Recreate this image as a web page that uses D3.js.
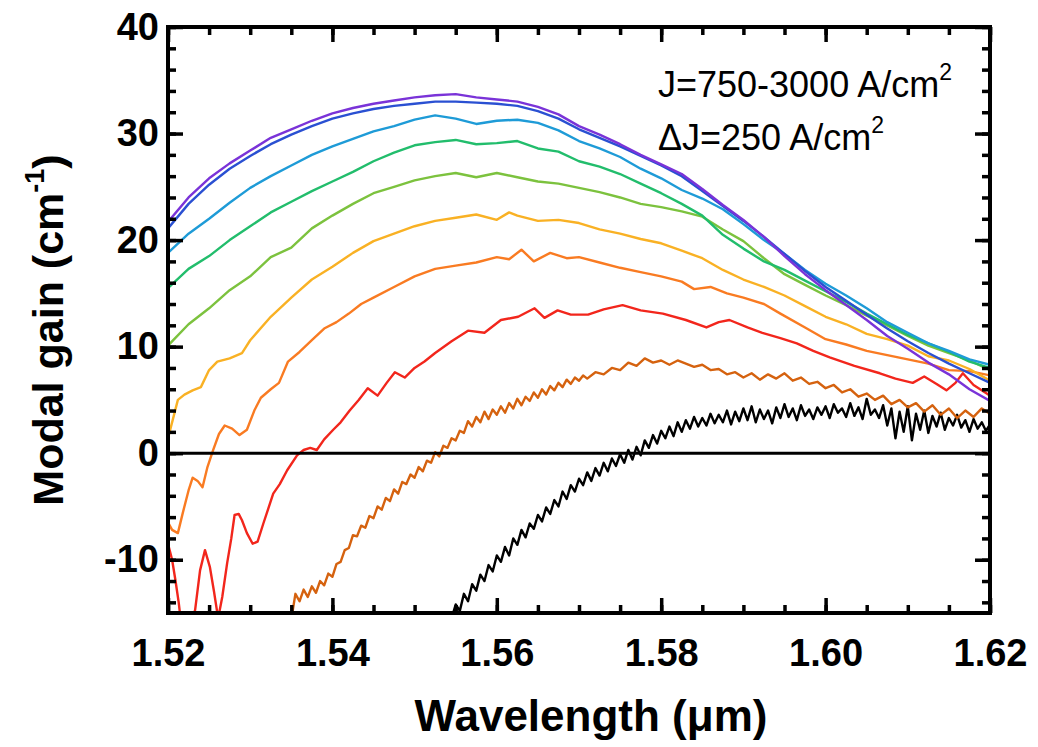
<!DOCTYPE html>
<html>
<head>
    <meta charset="utf-8" />
    <title>Modal gain spectra</title>
    <style>
        body { margin: 0; background: #fff; }
        text { font-family: "Liberation Sans", Arial, Helvetica, sans-serif; }
    </style>
</head>
<body>
<script src="https://d3js.org/d3.v7.min.js"></script>
<script>

    // gain spectra, one array per current density (wavelength um, modal gain cm^-1)
    var j3000 = [[1.5200,21.7],[1.5225,24.0],[1.5250,25.8],[1.5275,27.2],[1.5300,28.4],[1.5325,29.6],[1.5350,30.4],[1.5375,31.2],[1.5400,31.9],[1.5425,32.4],[1.5450,32.8],[1.5475,33.1],[1.5500,33.4],[1.5525,33.6],[1.5550,33.7],[1.5575,33.4],[1.5600,33.2],[1.5625,33.0],[1.5650,32.5],[1.5675,31.8],[1.5700,30.7],[1.5725,29.9],[1.5750,29.0],[1.5775,28.0],[1.5800,27.1],[1.5825,26.2],[1.5850,24.8],[1.5875,23.3],[1.5900,21.9],[1.5925,20.3],[1.5950,18.5],[1.5975,16.8],[1.6000,15.3],[1.6025,13.9],[1.6050,12.5],[1.6075,11.0],[1.6100,9.8],[1.6125,8.5],[1.6150,7.4],[1.6175,6.0],[1.6200,4.9]];
    var j2750 = [[1.5200,21.1],[1.5225,23.4],[1.5250,25.2],[1.5275,26.7],[1.5300,27.9],[1.5325,29.0],[1.5350,29.9],[1.5375,30.7],[1.5400,31.4],[1.5425,31.9],[1.5450,32.3],[1.5475,32.6],[1.5500,32.8],[1.5525,33.0],[1.5550,33.0],[1.5575,32.9],[1.5600,32.8],[1.5625,32.6],[1.5650,32.1],[1.5675,31.4],[1.5700,30.4],[1.5725,29.6],[1.5750,28.8],[1.5775,27.9],[1.5800,27.0],[1.5825,26.0],[1.5850,24.6],[1.5875,23.2],[1.5900,21.8],[1.5925,20.3],[1.5950,18.7],[1.5975,17.1],[1.6000,15.6],[1.6025,14.3],[1.6050,13.0],[1.6075,11.7],[1.6100,10.5],[1.6125,9.4],[1.6150,8.4],[1.6175,7.5],[1.6200,6.6]];
    var j2500 = [[1.5200,18.8],[1.5225,20.6],[1.5250,22.0],[1.5275,23.5],[1.5300,24.9],[1.5325,26.0],[1.5350,27.0],[1.5375,28.0],[1.5400,28.8],[1.5425,29.5],[1.5450,30.2],[1.5475,30.7],[1.5500,31.3],[1.5525,31.7],[1.5550,31.4],[1.5575,30.9],[1.5600,31.2],[1.5625,31.3],[1.5650,31.0],[1.5675,30.3],[1.5700,29.3],[1.5725,28.6],[1.5750,27.8],[1.5775,26.7],[1.5800,25.8],[1.5825,24.7],[1.5850,23.9],[1.5875,22.9],[1.5900,21.5],[1.5925,20.0],[1.5950,18.7],[1.5975,17.2],[1.6000,15.9],[1.6025,14.8],[1.6050,13.6],[1.6075,12.3],[1.6100,11.3],[1.6125,10.3],[1.6150,9.6],[1.6175,8.8],[1.6200,8.3]];
    var j2250 = [[1.5200,15.5],[1.5225,17.3],[1.5250,18.5],[1.5275,20.0],[1.5300,21.3],[1.5325,22.6],[1.5350,23.6],[1.5375,24.6],[1.5400,25.5],[1.5425,26.4],[1.5450,27.4],[1.5475,28.2],[1.5500,28.9],[1.5525,29.2],[1.5550,29.4],[1.5575,29.0],[1.5600,29.1],[1.5625,29.3],[1.5650,28.6],[1.5675,28.3],[1.5700,27.4],[1.5725,26.9],[1.5750,26.2],[1.5775,25.3],[1.5800,24.4],[1.5825,23.4],[1.5850,22.3],[1.5875,20.5],[1.5900,19.2],[1.5925,18.0],[1.5950,17.2],[1.5975,16.2],[1.6000,15.2],[1.6025,14.2],[1.6050,13.1],[1.6075,12.1],[1.6100,11.1],[1.6125,10.3],[1.6150,9.5],[1.6175,8.6],[1.6200,8.0]];
    var j2000 = [[1.5200,10.1],[1.5225,12.1],[1.5250,13.6],[1.5275,15.3],[1.5300,16.6],[1.5325,18.4],[1.5350,19.3],[1.5375,21.1],[1.5400,22.3],[1.5425,23.4],[1.5450,24.4],[1.5475,25.0],[1.5500,25.6],[1.5525,26.0],[1.5550,26.3],[1.5575,25.9],[1.5600,26.3],[1.5625,25.9],[1.5650,25.5],[1.5675,25.3],[1.5700,24.9],[1.5725,24.5],[1.5750,24.0],[1.5775,23.4],[1.5800,23.1],[1.5825,22.7],[1.5850,22.2],[1.5875,21.0],[1.5900,19.9],[1.5925,18.3],[1.5950,16.8],[1.5975,15.8],[1.6000,14.8],[1.6025,13.9],[1.6050,12.9],[1.6075,12.0],[1.6100,11.0],[1.6125,10.1],[1.6150,9.4],[1.6175,8.7],[1.6200,7.8]];
    var j1750 = [[1.5200,1.4],[1.5206,3.2],[1.5212,5.0],[1.5220,5.5],[1.5230,5.9],[1.5240,6.2],[1.5250,7.8],[1.5260,8.6],[1.5275,8.9],[1.5290,9.4],[1.5300,10.6],[1.5325,12.8],[1.5350,14.6],[1.5375,16.3],[1.5400,17.5],[1.5425,18.8],[1.5450,19.9],[1.5475,20.6],[1.5500,21.3],[1.5525,21.8],[1.5550,22.1],[1.5575,22.4],[1.5600,21.9],[1.5615,22.6],[1.5625,22.3],[1.5650,21.8],[1.5675,21.9],[1.5700,21.6],[1.5725,21.0],[1.5750,20.6],[1.5775,20.1],[1.5800,19.7],[1.5825,19.0],[1.5850,18.3],[1.5875,17.2],[1.5900,16.3],[1.5925,15.6],[1.5950,14.8],[1.5975,13.8],[1.6000,12.8],[1.6025,12.1],[1.6050,11.2],[1.6075,10.7],[1.6100,10.1],[1.6125,9.1],[1.6150,8.7],[1.6175,7.9],[1.6200,6.8]];
    var j1500 = [[1.5200,-6.5],[1.5205,-7.2],[1.5212,-7.5],[1.5218,-5.6],[1.5225,-3.5],[1.5230,-2.3],[1.5236,-2.6],[1.5242,-3.2],[1.5248,-1.3],[1.5255,0.3],[1.5262,1.8],[1.5269,2.6],[1.5278,2.3],[1.5287,1.7],[1.5296,2.2],[1.5305,4.0],[1.5313,5.2],[1.5325,6.0],[1.5335,6.6],[1.5346,8.6],[1.5360,9.5],[1.5375,10.6],[1.5390,11.7],[1.5405,12.3],[1.5420,13.1],[1.5435,14.0],[1.5450,14.6],[1.5475,15.6],[1.5500,16.6],[1.5525,17.3],[1.5550,17.6],[1.5575,17.9],[1.5600,18.4],[1.5615,18.2],[1.5630,19.1],[1.5645,18.0],[1.5665,18.8],[1.5685,18.3],[1.5700,18.4],[1.5725,17.9],[1.5750,17.4],[1.5775,17.0],[1.5800,16.6],[1.5825,16.1],[1.5840,15.4],[1.5860,15.6],[1.5880,15.0],[1.5900,14.6],[1.5925,14.0],[1.5945,13.1],[1.5975,11.8],[1.6000,10.7],[1.6025,10.2],[1.6050,9.6],[1.6075,9.2],[1.6100,8.8],[1.6125,8.4],[1.6150,7.8],[1.6175,7.7],[1.6200,7.3]];
    var j1250 = [[1.5200,-8.5],[1.5205,-10.0],[1.5209,-11.9],[1.5213,-14.0],[1.5216,-16.0],[1.5228,-16.0],[1.5233,-14.7],[1.5239,-11.0],[1.5245,-9.1],[1.5251,-10.7],[1.5256,-13.0],[1.5261,-15.5],[1.5266,-13.5],[1.5272,-10.3],[1.5277,-8.0],[1.5281,-5.8],[1.5286,-5.7],[1.5290,-6.3],[1.5296,-7.5],[1.5303,-8.5],[1.5309,-8.3],[1.5316,-6.6],[1.5322,-5.2],[1.5328,-3.8],[1.5336,-2.9],[1.5345,-1.6],[1.5357,-0.2],[1.5365,0.3],[1.5373,0.5],[1.5381,0.3],[1.5390,1.3],[1.5401,2.2],[1.5410,2.9],[1.5421,4.0],[1.5432,5.0],[1.5443,6.1],[1.5455,5.4],[1.5466,6.6],[1.5476,7.6],[1.5488,7.1],[1.5500,8.0],[1.5512,8.6],[1.5525,9.4],[1.5545,10.5],[1.5565,11.5],[1.5585,11.3],[1.5605,12.5],[1.5626,12.8],[1.5646,13.6],[1.5658,12.7],[1.5674,13.4],[1.5690,13.0],[1.5711,13.0],[1.5730,13.5],[1.5753,13.9],[1.5775,13.4],[1.5802,13.1],[1.5830,12.5],[1.5855,11.8],[1.5870,12.3],[1.5883,12.5],[1.5905,11.8],[1.5923,11.3],[1.5945,10.8],[1.5965,10.3],[1.5985,9.6],[1.6005,9.0],[1.6035,8.2],[1.6066,7.5],[1.6085,7.0],[1.6106,6.6],[1.6120,7.2],[1.6135,6.5],[1.6147,5.9],[1.6158,6.6],[1.6167,7.5],[1.6180,6.4],[1.6196,5.6],[1.6200,5.4]];
    var j1000 = [[1.5350,-15.6],[1.5355,-13.2],[1.5360,-13.9],[1.5365,-12.8],[1.5370,-13.5],[1.5375,-12.5],[1.5380,-13.1],[1.5385,-12.0],[1.5390,-12.4],[1.5395,-11.3],[1.5400,-11.6],[1.5405,-10.4],[1.5410,-10.2],[1.5415,-9.1],[1.5420,-8.9],[1.5425,-7.7],[1.5430,-7.8],[1.5435,-6.8],[1.5440,-7.0],[1.5445,-5.9],[1.5450,-6.1],[1.5455,-5.0],[1.5460,-5.3],[1.5465,-4.2],[1.5470,-4.5],[1.5475,-3.4],[1.5480,-3.8],[1.5485,-2.7],[1.5490,-2.9],[1.5495,-2.0],[1.5500,-2.3],[1.5505,-1.3],[1.5510,-1.7],[1.5515,-0.7],[1.5520,-0.9],[1.5525,0.1],[1.5530,-0.3],[1.5535,0.7],[1.5540,0.5],[1.5545,1.4],[1.5550,1.2],[1.5555,2.1],[1.5560,1.9],[1.5565,3.0],[1.5570,2.5],[1.5575,3.4],[1.5580,2.9],[1.5585,3.9],[1.5590,3.2],[1.5595,4.1],[1.5600,3.6],[1.5605,4.4],[1.5610,3.8],[1.5615,4.7],[1.5620,4.2],[1.5625,5.1],[1.5630,4.5],[1.5635,5.3],[1.5640,4.9],[1.5645,5.7],[1.5650,5.2],[1.5655,6.0],[1.5660,5.5],[1.5665,6.3],[1.5670,5.9],[1.5675,6.6],[1.5680,6.2],[1.5685,6.9],[1.5690,6.5],[1.5695,7.1],[1.5700,6.8],[1.5705,7.3],[1.5710,7.0],[1.5720,7.6],[1.5730,7.4],[1.5740,8.0],[1.5750,7.8],[1.5760,8.5],[1.5770,8.2],[1.5780,8.9],[1.5790,8.5],[1.5800,8.7],[1.5810,8.3],[1.5820,8.7],[1.5830,8.4],[1.5840,8.1],[1.5850,8.3],[1.5860,7.8],[1.5870,7.9],[1.5880,7.4],[1.5890,7.6],[1.5900,7.1],[1.5910,7.5],[1.5920,6.9],[1.5930,7.4],[1.5940,7.0],[1.5950,7.5],[1.5960,6.8],[1.5970,7.1],[1.5980,6.5],[1.5990,6.7],[1.6000,6.1],[1.6010,6.4],[1.6020,5.7],[1.6030,6.0],[1.6040,5.3],[1.6050,5.6],[1.6060,5.0],[1.6070,5.4],[1.6080,4.6],[1.6090,5.0],[1.6100,4.3],[1.6110,4.7],[1.6120,3.9],[1.6130,4.5],[1.6140,3.6],[1.6150,4.2],[1.6160,3.3],[1.6170,4.0],[1.6180,3.4],[1.6190,4.2],[1.6200,3.7]];
    var j750 = [[1.5545,-15.5],[1.5550,-14.2],[1.5555,-14.8],[1.5560,-13.2],[1.5565,-13.9],[1.5570,-12.3],[1.5575,-12.9],[1.5580,-11.4],[1.5585,-12.0],[1.5590,-10.5],[1.5595,-11.1],[1.5600,-9.6],[1.5605,-10.2],[1.5610,-8.8],[1.5615,-9.6],[1.5620,-8.0],[1.5625,-8.6],[1.5630,-7.2],[1.5635,-7.9],[1.5640,-6.6],[1.5645,-7.1],[1.5650,-5.8],[1.5655,-6.4],[1.5660,-5.1],[1.5665,-5.7],[1.5670,-4.4],[1.5675,-5.0],[1.5680,-3.6],[1.5685,-4.3],[1.5690,-3.0],[1.5695,-3.6],[1.5700,-2.4],[1.5705,-3.0],[1.5710,-1.8],[1.5715,-2.6],[1.5720,-1.4],[1.5725,-2.1],[1.5730,-0.9],[1.5735,-1.7],[1.5740,-0.5],[1.5745,-1.2],[1.5750,-0.1],[1.5755,-0.9],[1.5760,0.3],[1.5765,-0.6],[1.5770,0.6],[1.5775,-0.2],[1.5780,1.2],[1.5785,0.5],[1.5790,1.7],[1.5795,0.9],[1.5800,2.1],[1.5805,1.4],[1.5810,2.5],[1.5815,1.6],[1.5820,2.9],[1.5825,2.0],[1.5830,3.1],[1.5835,2.3],[1.5840,3.4],[1.5845,2.5],[1.5850,3.3],[1.5855,2.6],[1.5860,3.7],[1.5865,2.8],[1.5870,3.6],[1.5875,2.9],[1.5880,4.0],[1.5885,2.7],[1.5890,3.9],[1.5895,3.0],[1.5900,4.2],[1.5905,3.1],[1.5910,4.4],[1.5915,2.9],[1.5920,4.1],[1.5925,3.2],[1.5930,4.0],[1.5935,2.8],[1.5940,4.3],[1.5945,3.3],[1.5950,4.6],[1.5955,3.4],[1.5960,4.2],[1.5965,3.1],[1.5970,4.5],[1.5975,3.5],[1.5980,4.1],[1.5985,3.2],[1.5990,4.3],[1.5995,3.6],[1.6000,4.4],[1.6005,3.3],[1.6010,4.6],[1.6015,3.8],[1.6020,4.2],[1.6025,3.4],[1.6030,4.7],[1.6035,3.5],[1.6040,4.3],[1.6045,3.2],[1.6050,5.1],[1.6055,3.6],[1.6060,4.1],[1.6065,3.3],[1.6070,4.5],[1.6075,2.6],[1.6080,4.2],[1.6085,1.4],[1.6090,3.9],[1.6095,2.0],[1.6100,4.4],[1.6105,1.2],[1.6110,3.7],[1.6115,2.2],[1.6120,4.0],[1.6125,1.9],[1.6130,3.5],[1.6135,2.5],[1.6140,3.8],[1.6145,2.2],[1.6150,3.3],[1.6155,2.6],[1.6160,3.6],[1.6165,2.4],[1.6170,3.1],[1.6175,2.0],[1.6180,3.2],[1.6185,2.3],[1.6190,2.9],[1.6195,2.1],[1.6200,2.7]];

    var series = [j750, j1000, j1250, j1500, j1750, j2000, j2250, j2500, j2750, j3000];
    var colors = ["#000000", "#d5620f", "#f2261c", "#f97b22", "#f9b124", "#7cc23e", "#22bd6c", "#1e9bd7", "#2a50d2", "#7a33d8"];

    var xTicks = [1.52, 1.54, 1.56, 1.58, 1.60, 1.62];
    var xMinor = d3.range(0, 21).map(i => 1.52 + i * 0.005);
    var yTicks = [-10, 0, 10, 20, 30, 40];
    var yMinor = d3.range(-14, 41, 2);

    var width = 1038;
    var height = 747;
    var margin = {"left":168, "right":48, "top":27, "bottom":134};
    var plotW = width - margin.left - margin.right;
    var plotH = height - margin.top - margin.bottom;

    var svg = d3.select("body").append("svg")
                .attr("width", width)
                .attr("height", height);

    var xScaler = d3.scaleLinear()
                    .domain([1.52, 1.62])
                    .range([0, plotW]);

    var yScaler = d3.scaleLinear()
                    .domain([-15, 40])
                    .range([plotH, 0]);

    var plot = svg.append("g")
                  .attr("transform","translate("+margin.left+","+margin.top+")");

    plot.append("clipPath")
        .attr("id","clip")
      .append("rect")
        .attr("width",plotW)
        .attr("height",plotH);

    var line = d3.line()
                 .x(d => xScaler(d[0]))
                 .y(d => yScaler(d[1]));

    var curves = plot.append("g")
                     .attr("clip-path","url(#clip)");

    curves.selectAll("path")
          .data(series)
          .enter()
          .append("path")
          .attr("d", line)
          .attr("fill","none")
          .attr("stroke",(d,i) => colors[i])
          .attr("stroke-width",2.4)
          .attr("stroke-linejoin","round");

    // zero line
    plot.append("line")
        .attr("x1",0)
        .attr("x2",plotW)
        .attr("y1",yScaler(0))
        .attr("y2",yScaler(0))
        .attr("stroke","#000")
        .attr("stroke-width",3);

    function styleAxis(g){
        g.select(".domain").remove();
        g.selectAll("line").attr("stroke","#000").attr("stroke-width",3.5);
        g.selectAll("text")
         .attr("fill","#000")
         .style("font-size","38px")
         .style("font-weight","bold");
    }

    var fmtX = d3.format(".2f");
    var fmtY = d => String(d);   // plain hyphen for negatives, as in the original

    plot.append("g")
        .attr("transform","translate(0,"+plotH+")")
        .call(d3.axisBottom(xScaler).tickValues(xMinor).tickSize(-8).tickFormat(""))
        .call(styleAxis);
    plot.append("g")
        .attr("transform","translate(0,"+plotH+")")
        .call(d3.axisBottom(xScaler).tickValues(xTicks).tickSize(-15).tickPadding(26).tickFormat(fmtX))
        .call(styleAxis);
    plot.append("g")
        .call(d3.axisTop(xScaler).tickValues(xMinor).tickSize(-8).tickFormat(""))
        .call(styleAxis);
    plot.append("g")
        .call(d3.axisTop(xScaler).tickValues(xTicks).tickSize(-15).tickFormat(""))
        .call(styleAxis);

    plot.append("g")
        .call(d3.axisLeft(yScaler).tickValues(yMinor).tickSize(-8).tickFormat(""))
        .call(styleAxis);
    plot.append("g")
        .call(d3.axisLeft(yScaler).tickValues(yTicks).tickSize(-15).tickPadding(9).tickFormat(fmtY))
        .call(styleAxis);
    plot.append("g")
        .attr("transform","translate("+plotW+",0)")
        .call(d3.axisRight(yScaler).tickValues(yMinor).tickSize(-8).tickFormat(""))
        .call(styleAxis);
    plot.append("g")
        .attr("transform","translate("+plotW+",0)")
        .call(d3.axisRight(yScaler).tickValues(yTicks).tickSize(-15).tickFormat(""))
        .call(styleAxis);

    plot.append("rect")
        .attr("width",plotW)
        .attr("height",plotH)
        .attr("fill","none")
        .attr("stroke","#000")
        .attr("stroke-width",4);

    // axis titles
    svg.append("text")
       .attr("x", 591)
       .attr("y", 731)
       .attr("text-anchor","middle")
       .style("font-size","44px")
       .style("font-weight","bold")
       .text("Wavelength (\u03bcm)");

    var yTitle = svg.append("text")
                    .attr("transform","translate(63,"+(margin.top + plotH/2 + 10)+") rotate(-90)")
                    .attr("text-anchor","middle")
                    .style("font-size","43px")
                    .style("font-weight","bold");
    yTitle.append("tspan").text("Modal gain (cm");
    yTitle.append("tspan").attr("dy","-0.7em").style("font-size","27px").text("-1");
    yTitle.append("tspan").attr("dy","0.45em").text(")");

    // annotation
    var note = svg.append("g").style("font-size","36px");
    var t1 = note.append("text").attr("x",658).attr("y",97);
    t1.append("tspan").text("J=750-3000 A/cm");
    t1.append("tspan").attr("dy","-0.75em").style("font-size","23px").text("2");
    var t2 = note.append("text").attr("x",658).attr("y",150);
    t2.append("tspan").text("\u0394J=250 A/cm");
    t2.append("tspan").attr("dy","-0.75em").style("font-size","23px").text("2");

</script>
</body>
</html>
